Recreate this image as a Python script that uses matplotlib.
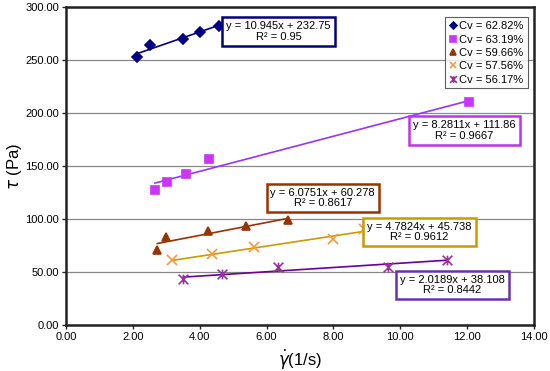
import numpy as np
import matplotlib
matplotlib.use("Agg")
import matplotlib.pyplot as plt
from matplotlib.path import Path

plt.rcParams['font.family'] = ['Liberation Sans', 'DejaVu Sans']

labels = ["Cv = 62.82%", "Cv = 63.19%", "Cv = 59.66%", "Cv = 57.56%", "Cv = 56.17%"]
x1 = [2.12, 2.51, 3.51, 4.01, 4.59]
y1 = [252.5, 264.0, 269.5, 276.0, 282.4]
x2 = [2.66, 3.03, 3.59, 4.29, 12.04]
y2 = [127.4, 134.6, 142.2, 156.9, 210.0]
x3 = [2.73, 2.99, 4.26, 5.39, 6.64]
y3 = [70.7, 82.7, 88.7, 93.4, 99.0]
x4 = [3.18, 4.36, 5.61, 7.98, 8.92]
y4 = [61.3, 67.0, 73.3, 80.8, 90.5]
x5 = [3.51, 4.68, 6.34, 9.62, 11.40]
y5 = [43.1, 47.8, 55.0, 54.7, 61.6]
slopes = [10.945, 8.2811, 6.0751, 4.7824, 2.0189]
intercepts = [232.75, 111.86, 60.278, 45.738, 38.108]
r2 = ["0.95", "0.9667", "0.8617", "0.9612", "0.8442"]
eq_text = ["y = 10.945x + 232.75", "y = 8.2811x + 111.86", "y = 6.0751x + 60.278",
           "y = 4.7824x + 45.738", "y = 2.0189x + 38.108"]
xs = [x1, x2, x3, x4, x5]
ys = [y1, y2, y3, y4, y5]

star = Path([(-1, -1), (1, 1), (-1, 1), (1, -1), (0, -1), (0, 1)],
            [Path.MOVETO, Path.LINETO, Path.MOVETO, Path.LINETO, Path.MOVETO, Path.LINETO])

marker_colors = ["#000080", "#CC33FF", "#993300", "#F59A3A", "#993399"]
line_colors = ["#000080", "#9933FF", "#993300", "#CC9900", "#660099"]
box_colors = ["#000080", "#BB33EE", "#993300", "#CC9900", "#6633AA"]
markers = ["D", "s", "^", "x", star]
msizes = [5, 6, 6, 7, 7]
box_pos = [(6.36, 277), (11.92, 183.6), (7.68, 119.9), (10.57, 87.7), (11.56, 37.8)]

fig = plt.figure(figsize=(5.5, 3.71), dpi=100)
ax = fig.add_axes([0.12, 0.124, 0.851, 0.857])

for i in range(5):
    xa = np.array(xs[i]); ya = np.array(ys[i])
    xl = np.array([xa.min(), xa.max()])
    ax.plot(xl, slopes[i] * xl + intercepts[i], color=line_colors[i], lw=1.2, zorder=3)
    ax.plot(xa, ya, linestyle='none', marker=markers[i], ms=msizes[i],
            color=marker_colors[i], mec=marker_colors[i], mew=1.2, label=labels[i], zorder=4)
    bx, by = box_pos[i]
    ax.text(bx, by, eq_text[i] + "\nR² = " + r2[i], ha='center', va='center',
            fontsize=8, linespacing=1.1, zorder=5,
            bbox=dict(boxstyle='square,pad=0.35', fc='white', ec=box_colors[i], lw=1.8))

ax.set_xlim(0, 14)
ax.set_ylim(0, 300)
ax.set_xticks(np.arange(0, 14.01, 2))
ax.set_yticks(np.arange(0, 300.01, 50))
ax.set_xticklabels([f"{v:.2f}" for v in np.arange(0, 14.01, 2)], fontsize=8)
ax.set_yticklabels([f"{v:.2f}" for v in np.arange(0, 300.01, 50)], fontsize=8)
ax.yaxis.grid(True, color='#888888', lw=0.9)
ax.set_axisbelow(True)
for s in ax.spines.values():
    s.set_linewidth(1.8)
    s.set_color('#222222')
ax.tick_params(direction='out', length=3, width=1, color='#222222', pad=2)

ax.set_ylabel(r'$\tau$ (Pa)', fontsize=12, labelpad=1)
ax.set_xlabel(r'$\dot{\gamma}$(1/s)', fontsize=12, labelpad=4)

leg = ax.legend(loc='upper right', fontsize=8, frameon=True, fancybox=False,
                edgecolor='#333333', handlelength=0.6, handletextpad=0.3,
                borderpad=0.35, labelspacing=0.3, markerscale=0.7,
                bbox_to_anchor=(0.998, 0.985))
leg.get_frame().set_linewidth(0.8)

fig.savefig("out.png", dpi=100)
